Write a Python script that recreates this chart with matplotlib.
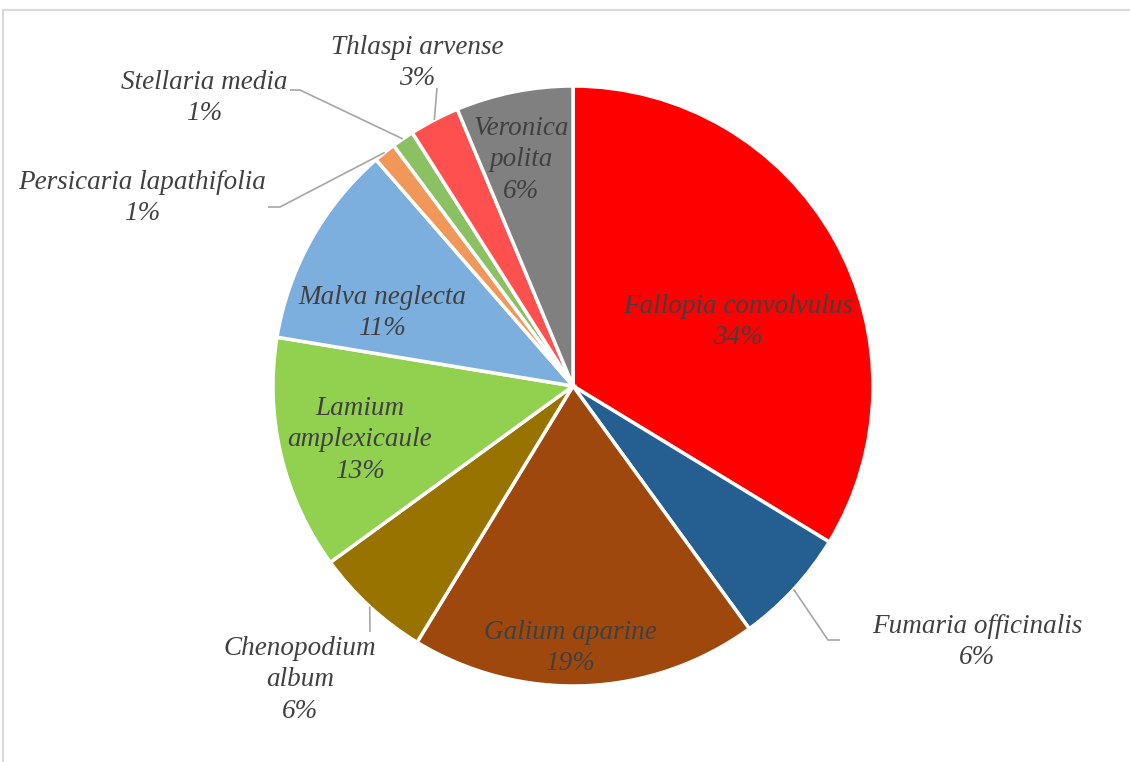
import matplotlib
matplotlib.use("Agg")
import matplotlib.pyplot as plt
from matplotlib.lines import Line2D
import numpy as np

# weed species share (%), clockwise from 12 o'clock
species = ["Fallopia convolvulus", "Fumaria officinalis", "Galium aparine",
           "Chenopodium\nalbum", "Lamium\namplexicaule", "Malva neglecta",
           "Persicaria lapathifolia", "Stellaria media", "Thlaspi arvense",
           "Veronica\npolita"]
shares = [33.7, 6.3, 18.7, 6.3, 12.6, 11.0, 1.2, 1.2, 2.7, 6.3]
colors = ["#FF0000", "#255E91", "#9E480E", "#997300", "#92D050",
          "#7CAFDD", "#F1975A", "#8BC063", "#FF5050", "#808080"]

W, H = 1130, 762
CX, CY, R = 573, 386, 300  # pixel layout, y measured from top

# label centre (px) and optional leader elbow points (px)
label_pos = [(738, 322), (977, 642), (570, 648), (300, 680), (360, 440),
             (382, 313), (142, 198), (204, 98), (417, 63), (521, 160)]
leaders = {1: [(828, 640), (840, 640)],
           3: [(370, 632)],
           6: [(280, 207), (268, 207)],
           7: [(300, 90), (290, 90)],
           8: [(437, 88)]}

fig = plt.figure(figsize=(W / 100, H / 100), dpi=100)
ax = fig.add_axes([0, 0, 1, 1])

wedges, _ = ax.pie(shares, colors=colors, startangle=90, counterclock=False,
                   center=(CX, H - CY), radius=R,
                   wedgeprops=dict(edgecolor="white", linewidth=2.5))
ax.set_xlim(0, W)
ax.set_ylim(0, H)
ax.set_aspect("equal")
ax.axis("off")

font = dict(family="Liberation Serif", style="italic", size=19.5,
            color="#404040")
for i, (name, val) in enumerate(zip(species, shares)):
    x, y = label_pos[i]
    ax.text(x, H - y, "%s\n%.0f%%" % (name, val), ha="center", va="center",
            linespacing=1.32, **font)
    if i in leaders:
        w = wedges[i]
        mid = np.deg2rad((w.theta1 + w.theta2) / 2)
        pts = [(CX + R * np.cos(mid), H - CY + R * np.sin(mid))]
        pts += [(px, H - py) for px, py in leaders[i]]
        xs, ys = zip(*pts)
        ax.plot(xs, ys, color="#A6A6A6", lw=1.2, solid_capstyle="butt")

# chart border (cut at right and bottom)
fig.add_artist(Line2D([3 / W, 1], [1 - 10 / H, 1 - 10 / H],
                      color="#D9D9D9", lw=1.5))
fig.add_artist(Line2D([3 / W, 3 / W], [0, 1 - 10 / H],
                      color="#D9D9D9", lw=1.5))

fig.savefig("out.png", dpi=100, facecolor="white")
